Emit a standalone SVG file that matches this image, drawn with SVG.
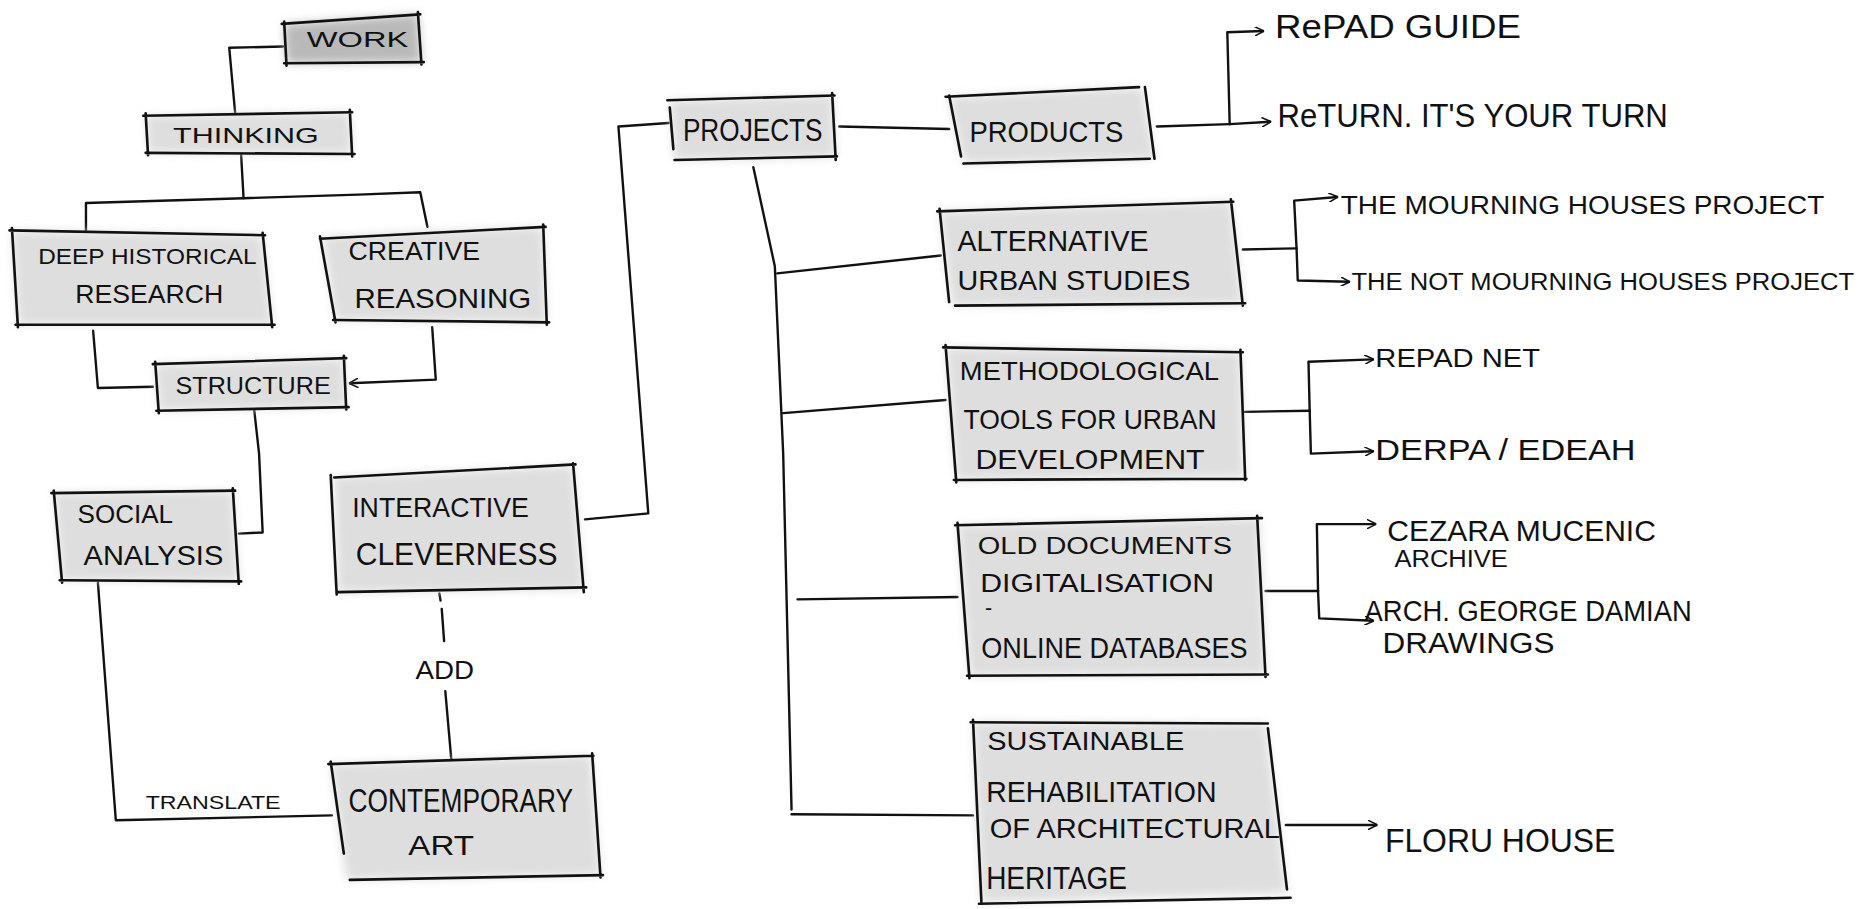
<svg xmlns="http://www.w3.org/2000/svg" width="1872" height="909" viewBox="0 0 1872 909">
<defs>
<filter id="soft" x="-15%" y="-25%" width="130%" height="150%"><feGaussianBlur stdDeviation="4"/></filter>
<marker id="arr" viewBox="0 0 10 10" refX="9" refY="5" markerWidth="4" markerHeight="4" orient="auto" markerUnits="strokeWidth"><path d="M0,0 L10,5 L0,10" fill="none" stroke="#111" stroke-width="1.6"/></marker>
<style>
.sh{fill:#dedede;filter:url(#soft)}
.shd{fill:#b9b9b9;filter:url(#soft)}
.ol{fill:none;stroke:#111;stroke-width:2.2;stroke-linecap:round;stroke-linejoin:round}
.c{fill:none;stroke:#111;stroke-width:2;stroke-linecap:round;stroke-linejoin:round}
.a{marker-end:url(#arr)}
text{font-family:"Liberation Sans","DejaVu Sans",Arial,sans-serif;fill:#111;letter-spacing:0}
</style>
</defs>
<rect width="1872" height="909" fill="#fff"/>
<g transform="scale(1.19388)">
<g id="connectors">
<path class="c" d="M237,39 L192,40 L197,95"/>
<path class="c" d="M202,130 L204,166"/>
<path class="c" d="M72,193 L72,170 L204,166 L300,163 L352,161 L358,190"/>
<path class="c" d="M78,277 L82,325 L128,324"/>
<path class="c a" d="M362,274 L365,318 L293,321"/>
<path class="c" d="M213,344 L217,380 L220,446 L200,447"/>
<path class="c" d="M82,488 L97,687 L278,683"/>
<path class="c" d="M368,497 L369,503 M370,510 L372,537"/>
<path class="c" d="M373,579 L378,636"/>
<path class="c" d="M490,435 L543,430 L518,106 L560,103"/>
<path class="c" d="M703,106 L795,108"/>
<path class="c" d="M969,106 L1030,104"/>
<path class="c a" d="M1030,104 L1028,27 L1058,26"/>
<path class="c a" d="M1030,104 L1064,102"/>
<path class="c" d="M631,140 L649,223 L656,380 L663,678"/>
<path class="c" d="M651,229 L788,214"/>
<path class="c" d="M656,346 L792,335"/>
<path class="c" d="M668,502 L802,500"/>
<path class="c" d="M663,682 L815,683"/>
<path class="c" d="M1041,209 L1086,208"/>
<path class="c a" d="M1086,208 L1084,168 L1120,165"/>
<path class="c a" d="M1086,208 L1087,235 L1130,236"/>
<path class="c" d="M1042,345 L1097,344"/>
<path class="c a" d="M1097,344 L1096,303 L1150,301"/>
<path class="c a" d="M1097,344 L1098,380 L1150,378"/>
<path class="c" d="M1060,495 L1104,495"/>
<path class="c a" d="M1104,495 L1103,439 L1152,439"/>
<path class="c a" d="M1104,495 L1105,518 L1150,520"/>
<path class="c a" d="M1077,691 L1153,691"/>
</g>

<g id="work">
<polygon class="shd" points="238,20 350,12 353,52 240,53"/>
<path class="ol" d="M236,20 L352,12 M350,10 L353,54 M355,52 L238,53 M240,55 L238,18"/>
<text x="257" y="39" font-size="19" textLength="85" lengthAdjust="spacingAndGlyphs">WORK</text>
</g>
<g id="thinking">
<polygon class="sh" points="122,97 293,94 295,129 124,128"/>
<path class="ol" d="M120,97 L295,94 M293,92 L295,131 M297,129 L122,128 M124,130 L122,95"/>
<text x="145" y="120" font-size="18" textLength="122" lengthAdjust="spacingAndGlyphs">THINKING</text>
</g>
<g id="deep-historical-research">
<polygon class="sh" points="10,193 220,197 228,272 15,272"/>
<path class="ol" d="M8,193 L222,197 M220,195 L228,274 M230,272 L13,272 M15,274 L10,191"/>
<text x="32" y="221" font-size="19" textLength="183" lengthAdjust="spacingAndGlyphs">DEEP HISTORICAL</text>
<text x="63" y="254" font-size="22" textLength="124" lengthAdjust="spacingAndGlyphs">RESEARCH</text>
</g>
<g id="creative-reasoning">
<polygon class="sh" points="270,198 455,190 458,270 281,268"/>
<path class="ol" d="M268,200 L457,190 M455,188 L458,272 M460,270 L279,268 M281,270 L268,198"/>
<text x="292" y="218" font-size="22" textLength="110" lengthAdjust="spacingAndGlyphs">CREATIVE</text>
<text x="297" y="258" font-size="23" textLength="148" lengthAdjust="spacingAndGlyphs">REASONING</text>
</g>
<g id="structure">
<polygon class="sh" points="130,305 288,300 290,341 133,344"/>
<path class="ol" d="M128,305 L290,300 M288,298 L290,343 M292,341 L131,344 M133,346 L130,303"/>
<text x="147" y="330" font-size="20" textLength="130" lengthAdjust="spacingAndGlyphs">STRUCTURE</text>
</g>
<g id="social-analysis">
<polygon class="sh" points="45,413 195,411 200,487 52,486"/>
<path class="ol" d="M43,413 L197,411 M195,409 L200,489 M202,487 L50,486 M52,488 L45,411"/>
<text x="65" y="438" font-size="21" textLength="80" lengthAdjust="spacingAndGlyphs">SOCIAL</text>
<text x="70" y="473" font-size="23" textLength="117" lengthAdjust="spacingAndGlyphs">ANALYSIS</text>
</g>
<g id="interactive-cleverness">
<polygon class="sh" points="280,400 480,390 489,494 283,496"/>
<path class="ol" d="M280,400 L482,389 M480,388 L489,496 M491,492 L283,496 M282,498 L277,398"/>
<text x="295" y="433" font-size="23" textLength="148" lengthAdjust="spacingAndGlyphs">INTERACTIVE</text>
<text x="298" y="473" font-size="26" textLength="169" lengthAdjust="spacingAndGlyphs">CLEVERNESS</text>
</g>
<g id="contemporary-art">
<polygon class="sh" points="277,640 495,633 503,733 290,737"/>
<path class="ol" d="M275,640 L497,633 M496,631 L503,735 M505,733 L293,737 M288,715 L277,638"/>
<text x="292" y="680" font-size="28" textLength="188" lengthAdjust="spacingAndGlyphs">CONTEMPORARY</text>
<text x="342" y="716" font-size="23" textLength="55" lengthAdjust="spacingAndGlyphs">ART</text>
</g>
<g id="labels">
<text x="348" y="569" font-size="22" textLength="49" lengthAdjust="spacingAndGlyphs">ADD</text>
<text x="122" y="678" font-size="15" textLength="113" lengthAdjust="spacingAndGlyphs">TRANSLATE</text>
</g>
<g id="projects">
<polygon class="sh" points="561,84 697,80 700,132 565,134"/>
<path class="ol" d="M559,84 L699,80 M697,78 L700,134 M701,131 L565,134 M564,125 L561,90"/>
<text x="572" y="118" font-size="26" textLength="117" lengthAdjust="spacingAndGlyphs">PROJECTS</text>
</g>
<g id="products">
<polygon class="sh" points="794,81 957,73 967,133 807,137"/>
<path class="ol" d="M792,81 L954,73 M959,73 L967,133 M963,133 L807,137 M805,131 L795,80"/>
<text x="812" y="119" font-size="24" textLength="129" lengthAdjust="spacingAndGlyphs">PRODUCTS</text>
</g>
<g id="alternative-urban-studies">
<polygon class="sh" points="787,177 1031,169 1041,255 797,256"/>
<path class="ol" d="M785,177 L1033,169 M1031,167 L1041,256 M1043,254 L800,256 M795,253 L787,175"/>
<text x="802" y="210" font-size="24" textLength="160" lengthAdjust="spacingAndGlyphs">ALTERNATIVE</text>
<text x="802" y="243" font-size="23" textLength="195" lengthAdjust="spacingAndGlyphs">URBAN STUDIES</text>
</g>
<g id="methodological-tools">
<polygon class="sh" points="792,291 1039,295 1042,400 801,402"/>
<path class="ol" d="M790,291 L1041,295 M1039,293 L1043,402 M1044,401 L799,402 M801,404 L792,289"/>
<text x="804" y="318" font-size="21" textLength="217" lengthAdjust="spacingAndGlyphs">METHODOLOGICAL</text>
<text x="807" y="359" font-size="23" textLength="212" lengthAdjust="spacingAndGlyphs">TOOLS FOR URBAN</text>
<text x="817" y="393" font-size="23" textLength="192" lengthAdjust="spacingAndGlyphs">DEVELOPMENT</text>
</g>
<g id="old-documents">
<polygon class="sh" points="802,440 1055,434 1060,565 812,566"/>
<path class="ol" d="M800,440 L1057,434 M1053,432 L1060,567 M1062,565 L810,566 M812,568 L802,438"/>
<text x="819" y="464" font-size="20" textLength="213" lengthAdjust="spacingAndGlyphs">OLD DOCUMENTS</text>
<text x="821" y="496" font-size="21" textLength="196" lengthAdjust="spacingAndGlyphs">DIGITALISATION</text>
<text x="825" y="515" font-size="18">-</text>
<text x="822" y="551" font-size="24" textLength="223" lengthAdjust="spacingAndGlyphs">ONLINE DATABASES</text>
</g>
<g id="sustainable-rehabilitation">
<polygon class="sh" points="815,605 1060,606 1078,748 822,756"/>
<path class="ol" d="M813,605 L1062,606 M1062,610 L1078,745 M1081,752 L820,757 M822,755 L815,603"/>
<text x="827" y="628" font-size="22" textLength="165" lengthAdjust="spacingAndGlyphs">SUSTAINABLE</text>
<text x="826" y="672" font-size="24" textLength="193" lengthAdjust="spacingAndGlyphs">REHABILITATION</text>
<text x="829" y="702" font-size="23" textLength="243" lengthAdjust="spacingAndGlyphs">OF ARCHITECTURAL</text>
<text x="826" y="745" font-size="27" textLength="118" lengthAdjust="spacingAndGlyphs">HERITAGE</text>
</g>
<g id="repad-guide"><text x="1068" y="32" font-size="28" textLength="206" lengthAdjust="spacingAndGlyphs">RePAD GUIDE</text></g>
<g id="return"><text x="1070" y="106" font-size="28" textLength="327" lengthAdjust="spacingAndGlyphs">ReTURN. IT'S YOUR TURN</text></g>
<g id="mourning-houses"><text x="1123" y="179" font-size="21" textLength="405" lengthAdjust="spacingAndGlyphs">THE MOURNING HOUSES PROJECT</text></g>
<g id="not-mourning-houses"><text x="1132" y="243" font-size="20" textLength="421" lengthAdjust="spacingAndGlyphs">THE NOT MOURNING HOUSES PROJECT</text></g>
<g id="repad-net"><text x="1152" y="307" font-size="22" textLength="138" lengthAdjust="spacingAndGlyphs">REPAD NET</text></g>
<g id="derpa-edeah"><text x="1152" y="385" font-size="24" textLength="218" lengthAdjust="spacingAndGlyphs">DERPA / EDEAH</text></g>
<g id="cezara-mucenic">
<text x="1162" y="453" font-size="24" textLength="225" lengthAdjust="spacingAndGlyphs">CEZARA MUCENIC</text>
<text x="1168" y="475" font-size="20" textLength="95" lengthAdjust="spacingAndGlyphs">ARCHIVE</text>
</g>
<g id="george-damian">
<text x="1143" y="520" font-size="24" textLength="274" lengthAdjust="spacingAndGlyphs">ARCH. GEORGE DAMIAN</text>
<text x="1158" y="547" font-size="24" textLength="144" lengthAdjust="spacingAndGlyphs">DRAWINGS</text>
</g>
<g id="floru-house"><text x="1160" y="714" font-size="28" textLength="193" lengthAdjust="spacingAndGlyphs">FLORU HOUSE</text></g>
</g>
</svg>
